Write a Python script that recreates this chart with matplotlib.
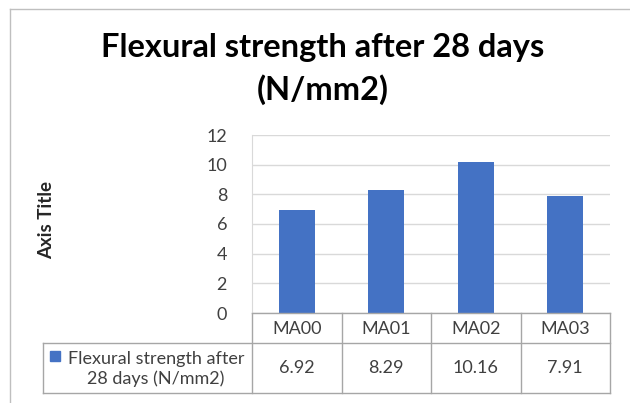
import matplotlib
matplotlib.use("Agg")
import matplotlib.pyplot as plt
from matplotlib.lines import Line2D
from matplotlib.patches import Rectangle

categories = ["MA00", "MA01", "MA02", "MA03"]
values = [6.92, 8.29, 10.16, 7.91]
value_labels = ["6.92", "8.29", "10.16", "7.91"]
series_name = "Flexural strength after\n28 days (N/mm2)"
title = "Flexural strength after 28 days\n(N/mm2)"
yticks = [0, 2, 4, 6, 8, 10, 12]

W, H = 630, 403
plt.rcParams['font.family'] = ['Lato', 'DejaVu Sans']
fig = plt.figure(figsize=(W / 100, H / 100), dpi=100)
fig.patch.set_facecolor("white")

def fx(px):
    return px / W

def fy(py):
    return 1 - py / H

left, right, top, bottom = 252, 610, 135, 313
ax = fig.add_axes([fx(left), fy(bottom), fx(right - left), (bottom - top) / H])

bar_color = "#4472C4"
grid_color = "#D9D9D9"
text_color = "#404040"
fs = 13

x = list(range(len(categories)))
ax.bar(x, values, width=0.4, color=bar_color, zorder=3)
ax.set_xlim(-0.5, len(categories) - 0.5)
ax.set_ylim(0, 12)
ax.set_yticks(yticks)
ax.set_yticklabels([str(t) for t in yticks], fontsize=fs, color=text_color)
ax.tick_params(axis='y', length=0, pad=18)
ax.set_xticks([])
ax.grid(axis='y', color=grid_color, linewidth=1, zorder=0)
for s in ["top", "right", "bottom"]:
    ax.spines[s].set_visible(False)
ax.spines["left"].set_color(grid_color)

# Data table
row1 = 343  # bottom of category row
row2 = 393  # bottom of value row
tleft = 43
line_kw = dict(color="#A6A6A6", linewidth=1)

def ay(py):
    return (bottom - py) / (bottom - top)

fig.add_artist(Line2D([fx(left), fx(right)], [fy(bottom), fy(bottom)], **line_kw))
fig.add_artist(Line2D([fx(tleft), fx(right)], [fy(row1), fy(row1)], **line_kw))
fig.add_artist(Line2D([fx(tleft), fx(right)], [fy(row2), fy(row2)], **line_kw))
fig.add_artist(Line2D([fx(tleft), fx(tleft)], [fy(row1), fy(row2)], **line_kw))
for b in [i - 0.5 for i in range(len(categories) + 1)]:
    ax.plot([b, b], [ay(bottom), ay(row2)], transform=ax.get_xaxis_transform(),
            clip_on=False, **line_kw)

for i, (c, v) in enumerate(zip(categories, value_labels)):
    ax.text(i, ay((bottom + row1) / 2 + 1), c, transform=ax.get_xaxis_transform(),
            ha="center", va="center", fontsize=fs, color=text_color)
    ax.text(i, ay((row1 + row2) / 2), v, transform=ax.get_xaxis_transform(),
            ha="center", va="center", fontsize=fs, color=text_color)

fig.text(fx(156), fy((row1 + row2) / 2 + 1), series_name, ha="center", va="center",
         fontsize=fs, color=text_color, multialignment="center", linespacing=1.2)
fig.add_artist(Rectangle((fx(50), fy(361)), fx(10), 10 / H, color=bar_color,
                         transform=fig.transFigure))

fig.text(fx(323), fy(69), title, ha="center", va="center", fontsize=23.5,
         fontweight="bold", color="black", linespacing=1.5)
fig.text(fx(47), fy(220), "Axis Title", rotation=90, ha="center", va="center",
         fontsize=13.5, fontweight="bold", color="#262626")

fig.add_artist(Line2D([fx(10), fx(W)], [fy(9), fy(9)], color="#BFBFBF", linewidth=1))
fig.add_artist(Line2D([fx(10), fx(10)], [fy(9), fy(H)], color="#BFBFBF", linewidth=1))

fig.savefig("out.png", dpi=100, facecolor="white")
